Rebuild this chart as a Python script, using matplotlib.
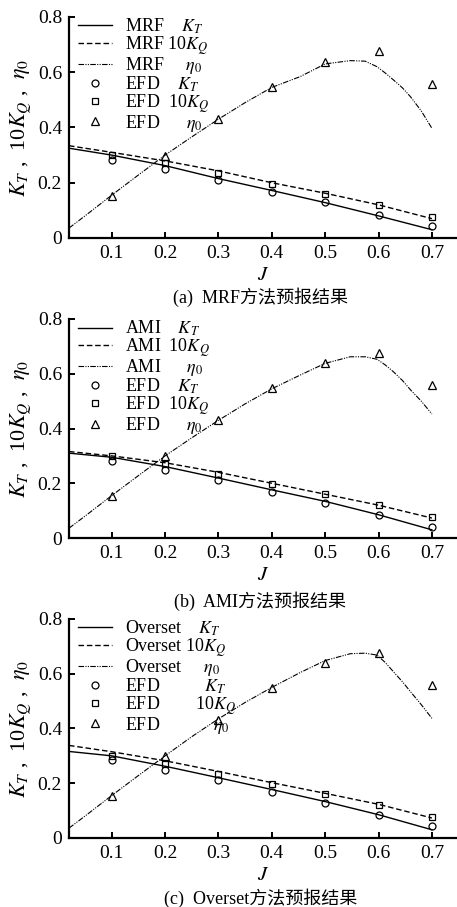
import numpy as np
import matplotlib
matplotlib.use('Agg')
from matplotlib import pyplot as plt

plt.rcParams['font.family'] = ['Liberation Serif', 'Noto Sans CJK SC']
plt.rcParams['mathtext.fontset'] = 'stix'

# experimental data (same for all panels)
J_efd = [0.1, 0.2, 0.3, 0.4, 0.5, 0.6, 0.7]
kt_efd = [0.283, 0.249, 0.211, 0.168, 0.129, 0.084, 0.042]
kq_efd = [0.301, 0.271, 0.235, 0.196, 0.160, 0.120, 0.076]
eta_efd = [0.153, 0.298, 0.430, 0.548, 0.638, 0.675, 0.558]

# computed curves
J_line = [0.02, 0.1, 0.2, 0.3, 0.4, 0.5, 0.6, 0.7]
J_eta = [0.02, 0.05, 0.1, 0.15, 0.2, 0.25, 0.3, 0.35, 0.4, 0.453, 0.5,
         0.547, 0.575, 0.597, 0.612, 0.628, 0.645, 0.66, 0.68, 0.7]

mrf_kt = [0.325, 0.300, 0.262, 0.215, 0.172, 0.128, 0.080, 0.030]
mrf_kq = [0.334, 0.310, 0.279, 0.243, 0.200, 0.162, 0.120, 0.070]
mrf_eta = [0.036, 0.080, 0.155, 0.228, 0.300, 0.366, 0.430, 0.490, 0.545,
           0.584, 0.630, 0.642, 0.640, 0.620, 0.598, 0.572, 0.543, 0.511,
           0.460, 0.397]

ami_kt = [0.310, 0.295, 0.261, 0.219, 0.176, 0.134, 0.085, 0.030]
ami_kq = [0.316, 0.300, 0.275, 0.240, 0.200, 0.160, 0.120, 0.073]
ami_eta = [0.036, 0.080, 0.155, 0.228, 0.300, 0.366, 0.430, 0.490, 0.545,
           0.595, 0.638, 0.662, 0.662, 0.653, 0.633, 0.607, 0.575, 0.541,
           0.500, 0.453]

ovs_kt = [0.316, 0.300, 0.262, 0.220, 0.177, 0.133, 0.085, 0.030]
ovs_kq = [0.338, 0.315, 0.282, 0.243, 0.202, 0.163, 0.123, 0.073]
ovs_eta = [0.036, 0.080, 0.155, 0.228, 0.300, 0.370, 0.435, 0.495, 0.550,
           0.604, 0.648, 0.673, 0.675, 0.668, 0.642, 0.607, 0.570, 0.534,
           0.487, 0.437]

panels = [
    ('MRF', mrf_kt, mrf_kq, mrf_eta, '(a)  MRF方法预报结果'),
    ('AMI', ami_kt, ami_kq, ami_eta, '(b)  AMI方法预报结果'),
    ('Overset', ovs_kt, ovs_kq, ovs_eta, '(c)  Overset方法预报结果'),
]

labels = {
    'MRF': ['MRF    $K_T$', 'MRF 10$K_Q$', 'MRF     $\\eta_0$',
            'EFD    $K_T$', 'EFD  10$K_Q$', 'EFD      $\\eta_0$'],
    'AMI': ['AMI    $K_T$', 'AMI  10$K_Q$', 'AMI      $\\eta_0$',
            'EFD    $K_T$', 'EFD  10$K_Q$', 'EFD      $\\eta_0$'],
    'Overset': ['Overset    $K_T$', 'Overset 10$K_Q$', 'Overset     $\\eta_0$',
                'EFD          $K_T$', 'EFD        10$K_Q$', 'EFD            $\\eta_0$'],
}

fig = plt.figure(figsize=(4.57, 9.07), dpi=100)
bottoms = [0.7376, 0.4068, 0.0761]
heights = [0.2437, 0.2415, 0.2415]
cap_y = [297, 601, 898]

for k, (name, kt, kq, eta, cap) in enumerate(panels):
    ax = fig.add_axes([0.151, bottoms[k], 0.849, heights[k]])
    h1, = ax.plot(J_line, kt, color='black', lw=1.0)
    h2, = ax.plot(J_line, kq, color='black', lw=1.0, linestyle=(0, (4, 2)))
    h3, = ax.plot(J_eta, eta, color='black', lw=0.8,
                  linestyle=(0, (5, 1.2, 1, 1.2, 1, 1.2)))
    h4, = ax.plot(J_efd, kt_efd, 'o', mfc='none', mec='black', ms=5, mew=0.9)
    h5, = ax.plot(J_efd, kq_efd, 's', mfc='none', mec='black', ms=5, mew=0.9)
    h6, = ax.plot(J_efd, eta_efd, '^', mfc='none', mec='black', ms=5.5, mew=0.9)

    ax.set_xlim(0.02, 0.747)
    ax.set_ylim(0, 0.8)
    ax.set_xticks(J_efd)
    ax.set_xticklabels(['0.1', '0.2', '0.3', '0.4', '0.5', '0.6', '0.7'])
    ax.set_yticks([0, 0.2, 0.4, 0.6, 0.8])
    ax.set_yticklabels(['0', '0.2', '0.4', '0.6', '0.8'])
    for s in ['top', 'right']:
        ax.spines[s].set_visible(False)
    for s in ['left', 'bottom']:
        ax.spines[s].set_linewidth(1.6)
    ax.tick_params(direction='in', length=4, width=1.4, labelsize=14, pad=5)
    ax.set_xlabel('$J$', fontsize=15, labelpad=3)
    ax.set_ylabel('$K_T$ ,  10$K_Q$ ,  $\\eta_0$', fontsize=16, labelpad=3)

    ax.legend([h1, h2, h3, h4, h5, h6], labels[name], loc='upper left',
              bbox_to_anchor=(-0.005, 1.05), frameon=False, fontsize=13,
              handlelength=1.9, labelspacing=-0.1, handletextpad=0.7,
              borderaxespad=0.2)

    fig.text(0.57, 1 - cap_y[k] / 907, cap, ha='center', va='center',
             fontsize=13)

fig.savefig('out.png', dpi=100)
